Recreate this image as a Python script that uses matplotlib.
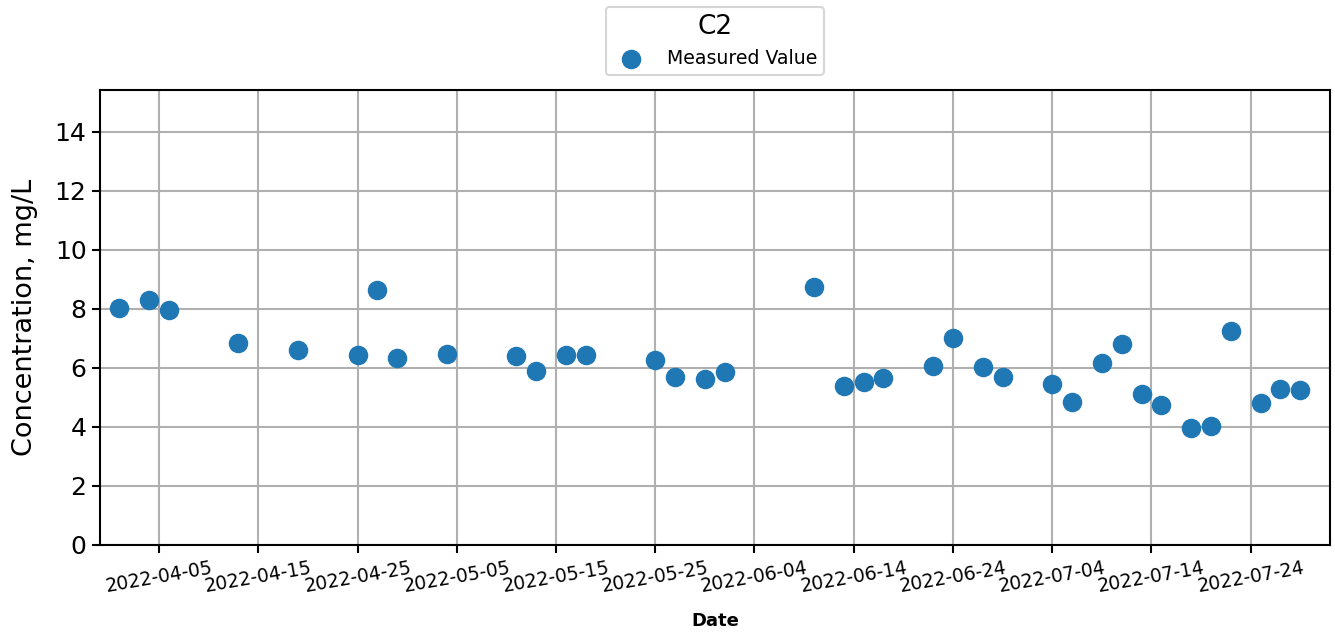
import matplotlib
matplotlib.use("Agg")
import matplotlib.pyplot as plt
import matplotlib.dates as mdates
import numpy as np
import pandas as pd

# sample dates and measured C2 values (mg/L)
dates = ['2022-04-01', '2022-04-04', '2022-04-06', '2022-04-13', '2022-04-19',
         '2022-04-25', '2022-04-27', '2022-04-29', '2022-05-04', '2022-05-11',
         '2022-05-13', '2022-05-16', '2022-05-18', '2022-05-25', '2022-05-27',
         '2022-05-30', '2022-06-01', '2022-06-10', '2022-06-13', '2022-06-15',
         '2022-06-17', '2022-06-22', '2022-06-24', '2022-06-27', '2022-06-29',
         '2022-07-04', '2022-07-06', '2022-07-09', '2022-07-11', '2022-07-13',
         '2022-07-15', '2022-07-18', '2022-07-20', '2022-07-22', '2022-07-25',
         '2022-07-27', '2022-07-29']
values = [8.03, 8.30, 7.97, 6.85, 6.61,
          6.44, 8.65, 6.34, 6.46, 6.41,
          5.89, 6.45, 6.45, 6.28, 5.70,
          5.64, 5.87, 8.74, 5.40, 5.51,
          5.66, 6.08, 7.02, 6.03, 5.70,
          5.45, 4.83, 6.15, 6.81, 5.13,
          4.76, 3.98, 4.04, 7.25, 4.82,
          5.30, 5.26]

x = pd.to_datetime(dates)

fig = plt.figure(figsize=(13.35, 6.32), dpi=100)
ax = fig.add_axes([0.0747, 0.1377, 0.9216, 0.72])

ax.scatter(x, values, s=170, color='#1f77b4', label='Measured Value', zorder=3)

ax.set_xlim(pd.Timestamp('2022-03-30 00:30'), pd.Timestamp('2022-08-01'))
ax.set_ylim(0, 15.42)
ticks = pd.date_range('2022-04-05', '2022-07-24', freq='10D')
ax.set_xticks(ticks)
ax.xaxis.set_major_formatter(mdates.DateFormatter('%Y-%m-%d'))
ax.set_yticks(np.arange(0, 15, 2))

ax.grid(True, color='#b0b0b0', linewidth=1.5)
ax.set_axisbelow(True)
for s in ax.spines.values():
    s.set_linewidth(1.5)
ax.tick_params(width=1.5, length=6)
ax.tick_params(axis='y', labelsize=18)
ax.tick_params(axis='x', labelsize=13.5)
plt.setp(ax.get_xticklabels(), rotation=10)

ax.set_ylabel('Concentration, mg/L', fontsize=19.5, labelpad=12)
ax.set_xlabel('Date', fontsize=13, fontweight='bold', labelpad=12)

leg = ax.legend(loc='lower center', bbox_to_anchor=(0.5, 1.013), title='C2',
                fontsize=13.6, title_fontsize=19, handletextpad=0.9,
                borderpad=0.35, borderaxespad=0.5)
leg.get_frame().set_linewidth(1.5)

fig.savefig('out.png', dpi=100)
